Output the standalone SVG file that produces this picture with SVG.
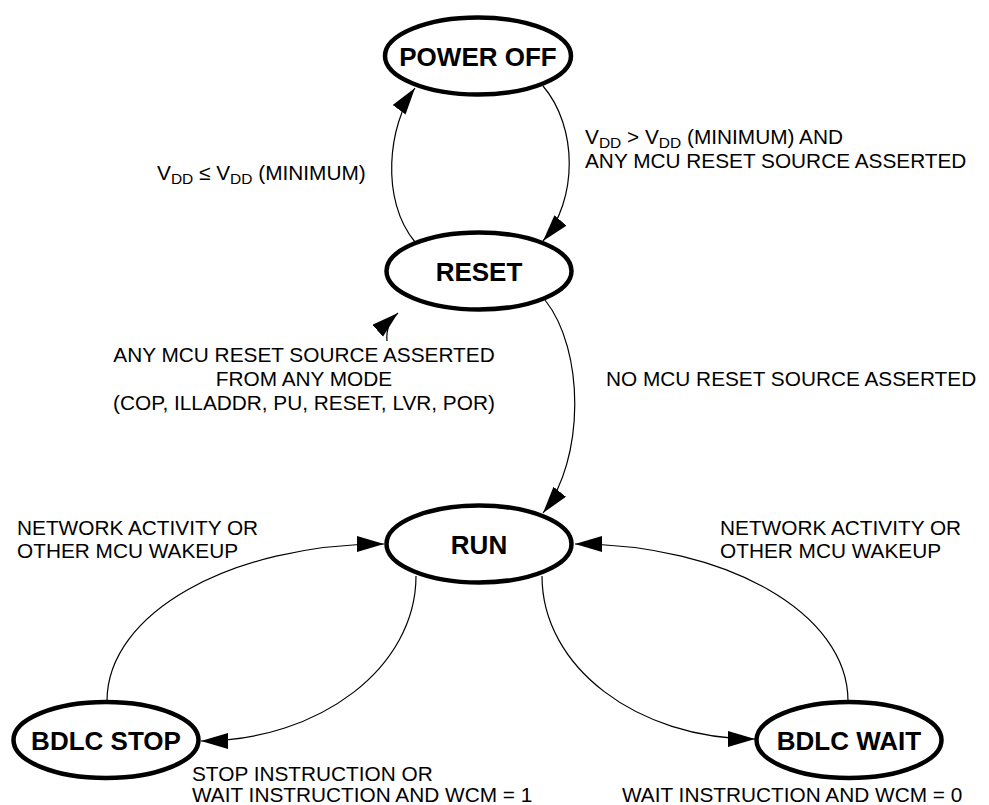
<svg xmlns="http://www.w3.org/2000/svg" width="989" height="805" viewBox="0 0 989 805">
<defs>
<style>
.node ellipse{fill:#fff;stroke:#000;stroke-width:4.5}
.node text{font-family:"Liberation Sans",Arial,sans-serif;font-weight:bold;font-size:26px;text-anchor:middle;fill:#000}
.edge{fill:none;stroke:#000;stroke-width:1.2;marker-end:url(#arr)}
.lbl{font-family:"Liberation Sans",Arial,sans-serif;font-size:20.8px;fill:#000}
.sub{font-size:15.5px}
</style>
<marker id="arr" markerUnits="userSpaceOnUse" markerWidth="28" markerHeight="18" refX="27" refY="8" orient="auto">
<path d="M0,0 L27,8 L0,16 z" fill="#000"/>
</marker>
</defs>
<rect width="989" height="805" fill="#fff"/>
<g id="connectors">
<path class="edge" d="M415,242 C380,200 388,125 415,88"/>
<path class="edge" d="M543,86 C578,127 578,200 543,241"/>
<path class="edge" d="M545,300 C585,350 585,460 543,513"/>
<path class="edge" d="M387,341 C386,330 390,320 398,313"/>
<path class="edge" d="M107,701 C107,613 231,544 384,544"/>
<path class="edge" d="M416,576 C416,667 320,741 201,741"/>
<path class="edge" d="M542,576 C542,667 637,739 755,739"/>
<path class="edge" d="M848,701 C848,613 726,544 575,544"/>
</g>
<g id="power-off" class="node"><ellipse cx="478" cy="56" rx="93" ry="38.5"/><text x="478" y="66">POWER OFF</text></g>
<g id="reset" class="node"><ellipse cx="479" cy="271" rx="92.5" ry="38.5"/><text x="479" y="281">RESET</text></g>
<g id="run" class="node"><ellipse cx="479" cy="544" rx="92.5" ry="38.5"/><text x="479" y="554">RUN</text></g>
<g id="bdlc-stop" class="node"><ellipse cx="106" cy="740" rx="92.5" ry="38"/><text x="106" y="749.5">BDLC STOP</text></g>
<g id="bdlc-wait" class="node"><ellipse cx="849" cy="740" rx="92.5" ry="38"/><text x="849" y="749.5">BDLC WAIT</text></g>
<g id="labels">
<text class="lbl" x="157" y="180">V<tspan class="sub" dy="4">DD</tspan><tspan dy="-4"> ≤ V</tspan><tspan class="sub" dy="4">DD</tspan><tspan dy="-4"> (MINIMUM)</tspan></text>
<text class="lbl" x="585" y="144">V<tspan class="sub" dy="3.5">DD</tspan><tspan dy="-3.5"> &gt; V</tspan><tspan class="sub" dy="3.5">DD</tspan><tspan dy="-3.5"> (MINIMUM) AND</tspan></text>
<text class="lbl" x="585" y="168">ANY MCU RESET SOURCE ASSERTED</text>
<text class="lbl" x="304" y="362" text-anchor="middle">ANY MCU RESET SOURCE ASSERTED</text>
<text class="lbl" x="304" y="386" text-anchor="middle">FROM ANY MODE</text>
<text class="lbl" x="304" y="410" text-anchor="middle">(COP, ILLADDR, PU, RESET, LVR, POR)</text>
<text class="lbl" x="606" y="386">NO MCU RESET SOURCE ASSERTED</text>
<text class="lbl" x="17" y="535">NETWORK ACTIVITY OR</text>
<text class="lbl" x="17" y="558">OTHER MCU WAKEUP</text>
<text class="lbl" x="720" y="535">NETWORK ACTIVITY OR</text>
<text class="lbl" x="720" y="558">OTHER MCU WAKEUP</text>
<text class="lbl" x="192" y="781">STOP INSTRUCTION OR</text>
<text class="lbl" x="192" y="802">WAIT INSTRUCTION AND WCM = 1</text>
<text class="lbl" x="622" y="802">WAIT INSTRUCTION AND WCM = 0</text>
</g>
</svg>
